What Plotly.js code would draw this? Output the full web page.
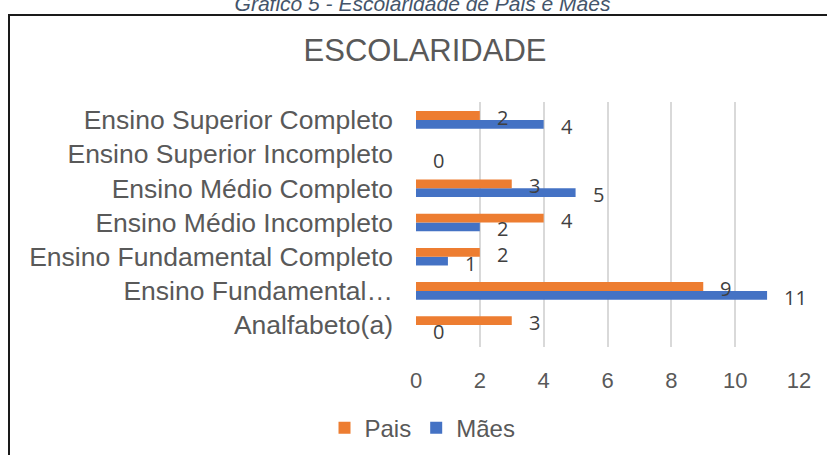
<!DOCTYPE html>
<html>
<head>
<meta charset="utf-8">
<script src="https://cdn.plot.ly/plotly-3.0.1.min.js"></script>
<style>
  html, body { margin: 0; padding: 0; width: 827px; height: 455px; overflow: hidden; background: #fff; }
  #caption { position: absolute; left: 0; width: 845px; top: -8px; text-align: center;
    font-family: "Liberation Sans", Arial, sans-serif; font-style: italic; font-size: 21px; color: #44546A; }
  #frame { position: absolute; left: 8px; top: 14px; width: 830px; height: 445px;
    border-left: 2px solid #1a1a1a; border-top: 2px solid #1a1a1a; }
  #chart { width: 830px; height: 445px; }
</style>
</head>
<body>
<div id="caption">Gráfico 5 - Escolaridade de Pais e Mães</div>
<div id="frame"><div id="chart"></div></div>
<script>
// Data (bottom to top, as drawn on the category axis)
const categories = [
  "Analfabeto(a)",
  "Ensino Fundamental Incompleto",
  "Ensino Fundamental Completo",
  "Ensino Médio Incompleto",
  "Ensino Médio Completo",
  "Ensino Superior Incompleto",
  "Ensino Superior Completo"
];
const categoryLabels = [
  "Analfabeto(a)",
  "Ensino Fundamental…",
  "Ensino Fundamental Completo",
  "Ensino Médio Incompleto",
  "Ensino Médio Completo",
  "Ensino Superior Incompleto",
  "Ensino Superior Completo"
];
const pais = [3, 9, 2, 4, 3, null, 2];
const maes = [0, 11, 1, 2, 5, 0, 4];
const xTicks = [0, 2, 4, 6, 8, 10, 12];

const ORANGE = "#ED7D31", BLUE = "#4472C4", TXT = "#595959";
const FONT = "Liberation Sans, Arial, sans-serif";
const bargap = 0.486;
const half = (1 - bargap) / 4; // center offset of each bar within the group

const traces = [
  { type: "bar", orientation: "h", name: "Mães", x: maes, y: categories,
    marker: { color: BLUE }, legendrank: 2, hoverinfo: "x+name" },
  { type: "bar", orientation: "h", name: "Pais", x: pais, y: categories,
    marker: { color: ORANGE }, legendrank: 1, hoverinfo: "x+name" }
];

const labelFont = { family: "Open Sans, sans-serif", size: 20, color: "#404040" };
const annotations = [];
categories.forEach((c, i) => {
  if (pais[i] !== null) annotations.push({ x: pais[i], y: i + half, xref: "x", yref: "y",
    text: String(pais[i]), showarrow: false, xanchor: "left", yanchor: "middle", xshift: 15, yshift: -2,
    font: labelFont });
  if (maes[i] !== null) annotations.push({ x: maes[i], y: i - half, xref: "x", yref: "y",
    text: String(maes[i]), showarrow: false, xanchor: "left", yanchor: "middle", xshift: 15, yshift: -2,
    font: labelFont });
});

const layout = {
  width: 830, height: 445,
  margin: { l: 406, r: 41, t: 86, b: 114, pad: 0 },
  paper_bgcolor: "#ffffff", plot_bgcolor: "#ffffff",
  barmode: "group", bargap: bargap, bargroupgap: 0,
  title: { text: "ESCOLARIDADE", font: { family: FONT, size: 31, color: TXT },
    xref: "container", x: 0.5, xanchor: "center", yref: "container", y: 0.924, yanchor: "middle" },
  xaxis: { range: [0, 12], tickvals: xTicks, ticktext: xTicks.map(String),
    showgrid: true, gridcolor: "#D9D9D9", gridwidth: 2, zeroline: false, showline: false,
    ticks: "", ticklabelstandoff: 18, tickfont: { family: FONT, size: 22, color: TXT }, fixedrange: true },
  yaxis: { type: "category", categoryorder: "array", categoryarray: categories,
    tickvals: categories, ticktext: categoryLabels,
    showgrid: false, zeroline: false, showline: false, ticks: "", ticklabelstandoff: 22,
    tickfont: { family: FONT, size: 26.5, color: TXT }, fixedrange: true },
  legend: { orientation: "h", xref: "container", x: 0.497, xanchor: "center",
    yref: "container", y: 0.074, yanchor: "middle", traceorder: "normal",
    font: { family: FONT, size: 24, color: TXT }, itemwidth: 30 },
  annotations: annotations,
  showlegend: true
};

Plotly.newPlot("chart", traces, layout, { displayModeBar: false, staticPlot: true });
</script>
</body>
</html>
